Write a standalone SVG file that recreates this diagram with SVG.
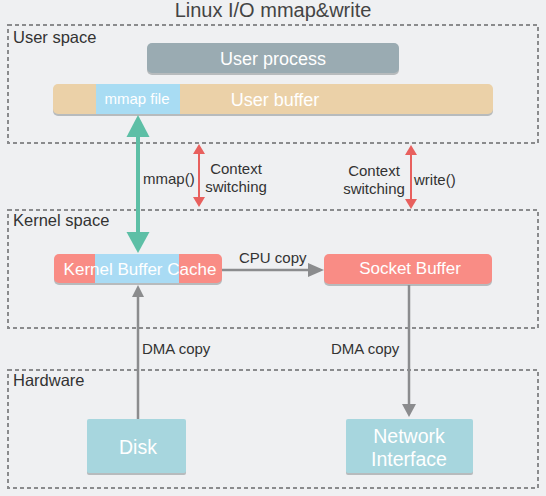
<svg xmlns="http://www.w3.org/2000/svg" width="546" height="496" viewBox="0 0 546 496">
<style>
text{font-family:"Liberation Sans",Arial,sans-serif}
.zone{fill:none;stroke:#8a8b8d;stroke-width:2;stroke-dasharray:4,3}
.zl{font-size:16.5px;fill:#333}
.lbl{font-size:15px;fill:#333}
.wt{fill:#fff;text-anchor:middle}
.sh{fill:#7f8587;opacity:0.5}
.gray{stroke:#8b8c8e;stroke-width:2.5;fill:none}
.red{stroke:#e8605e;stroke-width:2;fill:none}
.green{stroke:#5dbfa6;stroke-width:4;fill:none}
</style>
<rect x="0" y="0" width="546" height="496" fill="#eff0f2"/>
<text x="273" y="17" font-size="20" fill="#444" text-anchor="middle">Linux I/O mmap&amp;write</text>

<g id="user-space">
<rect class="zone" x="8" y="25" width="530" height="118"/>
<text class="zl" x="13" y="43">User space</text>
</g>
<g id="kernel-space">
<rect class="zone" x="8" y="210" width="530" height="118"/>
<text class="zl" x="13" y="226">Kernel space</text>
</g>
<g id="hardware">
<rect class="zone" x="8" y="370" width="530" height="118"/>
<text class="zl" x="13" y="386">Hardware</text>
</g>

<g id="user-process">
<rect class="sh" x="147" y="45" width="252" height="30" rx="5"/>
<rect x="147" y="43" width="252" height="30" rx="5" fill="#9aabb2"/>
<text class="wt" x="273" y="65" font-size="18">User process</text>
</g>

<g id="user-buffer">
<rect class="sh" x="53" y="86" width="440" height="30" rx="5"/>
<rect x="53" y="84" width="440" height="30" rx="5" fill="#ebd1a8"/>
<rect x="96" y="84" width="84" height="30" fill="#a8dcf3"/>
<text class="wt" x="137" y="104" font-size="15">mmap file</text>
<text class="wt" x="275" y="106" font-size="18">User buffer</text>
</g>

<g id="kernel-buffer-cache">
<rect class="sh" x="54" y="256" width="168" height="29" rx="5"/>
<rect x="54" y="254" width="168" height="29" rx="5" fill="#f98c85"/>
<rect x="95" y="254" width="84" height="29" fill="#a9dbf4"/>
<text class="wt" x="140" y="275" font-size="17">Kernel Buffer Cache</text>
</g>

<g id="socket-buffer">
<rect class="sh" x="324" y="256" width="168" height="30" rx="5"/>
<rect x="324" y="254" width="168" height="30" rx="5" fill="#f98c85"/>
<text class="wt" x="410" y="274" font-size="17">Socket Buffer</text>
</g>

<g id="disk">
<rect class="sh" x="87" y="421" width="99" height="54" rx="2"/>
<rect x="87" y="419" width="99" height="54" rx="2" fill="#a7d6de"/>
<text class="wt" x="138" y="454" font-size="19.5">Disk</text>
</g>

<g id="network-interface">
<rect class="sh" x="346" y="421" width="127" height="54" rx="2"/>
<rect x="346" y="419" width="127" height="54" rx="2" fill="#a7d6de"/>
<text class="wt" x="409" y="443" font-size="19.5">Network</text>
<text class="wt" x="409" y="466" font-size="19.5">Interface</text>
</g>

<g id="connectors">
<line class="green" x1="138" y1="135" x2="138" y2="234"/>
<polygon points="138,115 126.5,137 149.5,137" fill="#5dbfa6"/>
<polygon points="138,253 126.5,232 149.5,232" fill="#5dbfa6"/>
<text class="lbl" x="143" y="184">mmap()</text>

<line class="red" x1="199" y1="152" x2="199" y2="199"/>
<polygon points="199,144 193,154 205,154" fill="#e8605e"/>
<polygon points="199,207 193,197 205,197" fill="#e8605e"/>
<text class="lbl" x="236" y="174" text-anchor="middle">Context</text>
<text class="lbl" x="236" y="192" text-anchor="middle">switching</text>

<line class="red" x1="411" y1="153" x2="411" y2="201"/>
<polygon points="411,145 405,155 417,155" fill="#e8605e"/>
<polygon points="411,209 405,199 417,199" fill="#e8605e"/>
<text class="lbl" x="374" y="176" text-anchor="middle">Context</text>
<text class="lbl" x="374" y="194" text-anchor="middle">switching</text>
<text class="lbl" x="414" y="185">write()</text>

<line class="gray" x1="222" y1="270" x2="310" y2="270"/>
<polygon points="324,270 308,263 308,277" fill="#8b8c8e"/>
<text class="lbl" x="239" y="263">CPU copy</text>

<line class="gray" x1="138" y1="419" x2="138" y2="295"/>
<polygon points="138,285 132,297 144,297" fill="#8b8c8e"/>
<text class="lbl" x="142" y="354" font-size="16">DMA copy</text>

<line class="gray" x1="409" y1="285" x2="409" y2="406"/>
<polygon points="409,417 402,404 416,404" fill="#8b8c8e"/>
<text class="lbl" x="331" y="354" font-size="16">DMA copy</text>
</g>
</svg>
